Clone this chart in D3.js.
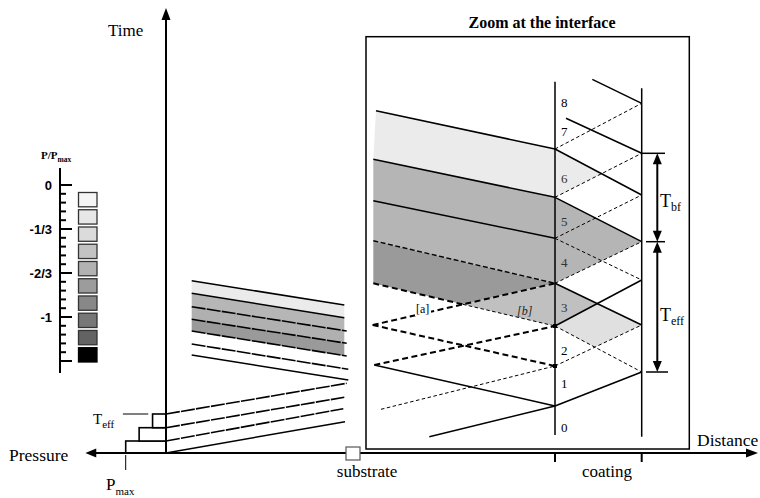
<!DOCTYPE html>
<html><head><meta charset="utf-8">
<script src="https://cdn.jsdelivr.net/npm/d3@7"></script>
<style>
body{margin:0;background:#fff}
svg{display:block}
text{font-family:"Liberation Serif","Times New Roman",serif;fill:#000}
</style>
</head><body>
<svg id="chart" width="760" height="498"></svg>
<script>
// ================= DATA =================
// legend (P / Pmax)
const legendTickValues = [0, -1/3, -2/3, -1];
const legendTickLabels = ["0", "-1/3", "-2/3", "-1"];
const legendMinorCount = 20;            // minor ticks every 1/15 down to -4/3
const legendColors = ["#f5f5f5","#e7e7e7","#dbdbdb","#c3c3c3","#b2b2b2","#9c9c9c","#888888","#777777","#636363","#000000"];

// loading steps at the origin (relative pressure, time span)
const pressureSteps = [1, 2/3, 1/3];
const stepTimes = [0, 12, 25.3, 39];

// overview: characteristic lines in the substrate (distance, time)
const descLines = [
  [[25.7,172.3],[178.3,148]],
  [[25.7,159.7],[178.3,135.3]],
  [[25.7,146.3],[180.7,122]],
  [[25.7,133.7],[180.7,109.7]],
  [[25.7,122],[180.7,97]],
  [[25.7,109],[182.3,83.7]],
  [[25.7,98],[182.3,73]]
];
const descStyles = ["solid","solid","rough","rough","rough","rough","solid"];
const ascLines = [
  [[0,39],[180.7,69.7]],
  [[0,25.3],[178.3,55.7]],
  [[0,12],[177.3,44.3]],
  [[0,0],[179,31.3]]
];
const ascStyles = ["rough","rough","rough","solid"];
const bandColors = ["#ebebeb","#b6b6b6","#b0b0b0","#9a9a9a"];
const bandFillEnd = 178.3;

// zoom at the interface
const interfaceDist = 389, surfaceDist = 475.7;
const interfaceTimes = [47, 87, 127, 169.7, 214.7, 255.7, 304];
const surfaceTimes  = [81, 128, 173, 211.3, 258, 299.7, 349.7];
// [interface node, surface node, style]
const coatingSegments = [
  [0,0,"solid"],[2,0,"thin"],[1,1,"thin"],[3,1,"solid"],[2,2,"solid"],[4,2,"thin"],
  [3,3,"thin"],[5,3,"solid"],[4,4,"thin"],[6,4,"solid"],[5,5,"thin"],[6,6,"thin"]
];
// incoming rays reaching the free surface [start distance, start time, surface node]
const incomingRays = [[400,334.7,5],[426.3,373.7,6]];
// substrate-side lines in the zoom [start distance, start time, interface node, style]
const substrateLines = [
  [210,342.3,6,"solid"],
  [207.3,293.7,5,"solid"],
  [207.3,252.3,4,"solid"],
  [207.3,212.3,3,"medium"],
  [207.3,169.7,2,"coarse-thin"],
  [206.7,128,3,"coarse"],
  [206.7,128,1,"coarse"],
  [208.3,88,2,"coarse"],
  [208.3,88,0,"solid"],
  [215,43.7,1,"thin"],
  [263.3,16.3,0,"solid"]
];
const regionLabels = ["0","1","2","3","4","5","6","7","8"];
const regionLabelTimes = [26.3, 69.7, 103, 146.3, 190.7, 232.3, 275, 322.3, 351.3];
const regionLabelColors = ["#000","#000","#000","#333","#333","#333","#333","#000","#000"];

// ================= SCALES =================
const svg = d3.select("#chart");
const X = d3.scaleLinear().domain([0, 590]).range([166, 756]);   // distance
const Y = d3.scaleLinear().domain([0, 445]).range([453, 8]);     // time
const P = d3.scaleLinear().domain([0, 1]).range([166, 125.7]);  // pressure (to the left)
const LY = d3.scaleLinear().domain([0, -4/3]).range([185, 361]);
const LB = d3.scaleBand().domain(d3.range(legendColors.length)).range([192.5, 362]).paddingInner(0.17).paddingOuter(0);

const line = d3.line().x(d => X(d[0])).y(d => Y(d[1]));
const I = i => [interfaceDist, interfaceTimes[i]];
const S = j => [surfaceDist, surfaceTimes[j]];
function intersect(a, b, c, d) {
  const x1=a[0],y1=a[1],x2=b[0],y2=b[1],x3=c[0],y3=c[1],x4=d[0],y4=d[1];
  const den=(x1-x2)*(y3-y4)-(y1-y2)*(x3-x4);
  const t=((x1-x3)*(y3-y4)-(y1-y3)*(x3-x4))/den;
  return [x1+t*(x2-x1), y1+t*(y2-y1)];
}
function tAt(l, d) { const [[d0,t0],[d1,t1]] = l; return t0 + (t1-t0)*(d-d0)/(d1-d0); }
const styles = {
  solid:  {w:1.5, dash:null},
  rough:  {w:1.6, dash:"14,1.2"},
  thin:   {w:1,   dash:"3.5,2.5"},
  medium: {w:1.4, dash:"5,2.5"},
  coarse: {w:2,   dash:"6,3.5"}
};
function drawLine(pts, st) {
  const s = styles[st];
  svg.append("path").attr("d", line(pts)).attr("fill","none")
    .attr("stroke","#000").attr("stroke-width", s.w)
    .attr("stroke-dasharray", s.dash);
}
function poly(pts, fill) {
  svg.append("path").attr("d", line(pts) + "Z").attr("fill", fill).attr("stroke","none");
}

// ================= LEGEND =================
svg.append("line").attr("x1",60).attr("x2",60).attr("y1",LY(0)-17).attr("y2",LY(-4/3)+12)
  .attr("stroke","#000").attr("stroke-width",2);
d3.range(legendMinorCount+1).forEach(k => {
  const v = -k/15, major = k % 5 === 0;
  svg.append("line").attr("x1",60).attr("x2", major ? 72 : 66)
    .attr("y1",LY(v)).attr("y2",LY(v)).attr("stroke","#000").attr("stroke-width",2);
});
legendTickValues.forEach((v,i) => {
  svg.append("text").attr("x",52).attr("y",LY(v)+5).attr("text-anchor","end")
    .style("font-family","'Liberation Sans',Arial,sans-serif").style("font-weight","bold")
    .style("font-size","13px").text(legendTickLabels[i]);
});
legendColors.forEach((c,i) => {
  svg.append("rect").attr("x",78.5).attr("y",LB(i)).attr("width",18.5).attr("height",LB.bandwidth())
    .attr("fill",c).attr("stroke", i === legendColors.length-1 ? "#000" : "#333").attr("stroke-width",1.3);
});
const lt = svg.append("text").attr("x",41).attr("y",159).style("font-weight","bold").style("font-size","11px");
lt.append("tspan").text("P/P");
lt.append("tspan").attr("dy",3).style("font-size","7.5px").text("max");

// ================= OVERVIEW BANDS =================
for (let k = 0; k < bandColors.length; k++) {
  const a = descLines[k], b = descLines[k+1];
  poly([a[0], [bandFillEnd, tAt(a,bandFillEnd)], [bandFillEnd, tAt(b,bandFillEnd)], b[0]], bandColors[k]);
}
descLines.forEach((l,i) => drawLine(l, descStyles[i]));
ascLines.forEach((l,i) => drawLine(l, ascStyles[i]));

// loading steps
pressureSteps.forEach((p,i) => {
  svg.append("rect").attr("x",P(p)).attr("y",Y(stepTimes[i+1]))
    .attr("width",P(0)-P(p)).attr("height",Y(stepTimes[i])-Y(stepTimes[i+1]))
    .attr("fill","#fff").attr("stroke","#000").attr("stroke-width",1.6);
});
// Teff marker + Pmax tick
svg.append("line").attr("x1",P(1.07)).attr("x2",P(0.44)).attr("y1",Y(stepTimes[3])).attr("y2",Y(stepTimes[3]))
  .attr("stroke","#000").attr("stroke-width",1);
svg.append("line").attr("x1",P(1)).attr("x2",P(1)).attr("y1",Y(-2)).attr("y2",Y(-17))
  .attr("stroke","#000").attr("stroke-width",1);

// ================= ZOOM BOX =================
const sl = k => [substrateLines[k][0], substrateLines[k][1]];
const K = intersect(sl(4), I(2), sl(5), I(3));
poly([sl(0), I(6), I(5), sl(1)], "#ebebeb");
poly([sl(1), I(5), I(3), sl(3)], "#b5b5b5");
poly([sl(3), I(3), K, sl(4)], "#9a9a9a");
poly([K, I(3), I(2)], "#c0c0c0");

const X65 = intersect(I(6),S(4),I(5),S(5));
const X54 = intersect(I(5),S(3),I(4),S(4));
const X43 = intersect(I(4),S(2),I(3),S(3));
const X32 = intersect(I(3),S(1),I(2),S(2));
const X21 = intersect(I(2),S(0),I(1),S(1));
poly([I(6), X65, I(5)], "#ebebeb");
poly([I(5), X54, S(3), X43, I(3)], "#b5b5b5");
poly([I(3), X32, I(2)], "#c0c0c0");
poly([I(2), X32, S(1), X21], "#e0e0e0");

substrateLines.forEach(s => {
  const st = [s[0], s[1]], en = I(s[2]);
  if (s[3] === "coarse-thin") { drawLine([st, K], "coarse"); drawLine([K, en], "thin"); }
  else drawLine([st, en], s[3]);
});
coatingSegments.forEach(s => drawLine([I(s[0]), S(s[1])], s[2]));
incomingRays.forEach(r => drawLine([[r[0],r[1]], S(r[2])], "solid"));

// interface & free surface
drawLine([[interfaceDist,18],[interfaceDist,371.3]], "solid");
drawLine([[surfaceDist,16.3],[surfaceDist,364.7]], "solid");
[1,2].forEach(i => svg.append("rect").attr("x",X(interfaceDist)-2).attr("y",Y(interfaceTimes[i])-2).attr("width",4).attr("height",4).attr("fill","#000"));

// box
svg.append("rect").attr("x",X(200)).attr("y",Y(416.3)).attr("width",X(523.3)-X(200)).attr("height",Y(4)-Y(416.3))
  .attr("fill","none").attr("stroke","#000").attr("stroke-width",1.5);

// region labels
regionLabels.forEach((t,i) => {
  svg.append("text").attr("x",X(interfaceDist+6)).attr("y",Y(regionLabelTimes[i])+5)
    .style("font-size","13px").style("fill",regionLabelColors[i]).text(t);
});
svg.append("rect").attr("x",X(250)-1).attr("y",Y(140)-10).attr("width",16).attr("height",13).attr("fill","#fff");
svg.append("text").attr("x",X(250)).attr("y",Y(140)).style("font-size","12px").text("[a]");
svg.append("text").attr("x",X(351)).attr("y",Y(138)).style("font-size","12px").style("font-style","italic").style("fill","#222").text("[b]");

// Tbf / Teff arrows
const arrowX = X(491.3);
function hTick(t, d0, d1) {
  svg.append("line").attr("x1",X(d0)).attr("x2",X(d1)).attr("y1",Y(t)).attr("y2",Y(t)).attr("stroke","#000").attr("stroke-width",1.5);
}
function vArrow(tTop, tBot) {
  const y0 = Y(tTop), y1 = Y(tBot);
  svg.append("line").attr("x1",arrowX).attr("x2",arrowX).attr("y1",y0+8).attr("y2",y1-8).attr("stroke","#000").attr("stroke-width",2);
  svg.append("path").attr("d",`M${arrowX},${y0}L${arrowX-4.5},${y0+11}L${arrowX+4.5},${y0+11}Z`).attr("fill","#000");
  svg.append("path").attr("d",`M${arrowX},${y1}L${arrowX-4.5},${y1-11}L${arrowX+4.5},${y1-11}Z`).attr("fill","#000");
}
hTick(surfaceTimes[5], surfaceDist, 499);
hTick(surfaceTimes[3], 480, 499);
hTick(surfaceTimes[0], 480, 502);
vArrow(surfaceTimes[5], surfaceTimes[3]);
vArrow(surfaceTimes[3], surfaceTimes[0]);
function tLabel(x, y, sub) {
  const t = svg.append("text").attr("x",x).attr("y",y).style("font-size","18px");
  t.append("tspan").text("T");
  t.append("tspan").attr("dy",4).style("font-size","12px").text(sub);
}
tLabel(660, 207, "bf");
tLabel(660, 321, "eff");

// ================= MAIN AXES =================
svg.append("line").attr("x1",X(0)).attr("x2",X(0)).attr("y1",Y(0)).attr("y2",Y(433)).attr("stroke","#000").attr("stroke-width",2);
svg.append("path").attr("d",`M${X(0)},${Y(445)}L${X(0)-4.5},${Y(433)}L${X(0)+4.5},${Y(433)}Z`).attr("fill","#000");
svg.append("line").attr("x1",P(1.9)).attr("x2",X(580)).attr("y1",Y(0)).attr("y2",Y(0)).attr("stroke","#000").attr("stroke-width",2);
svg.append("path").attr("d",`M${P(2.0)},${Y(0)}L${P(1.73)},${Y(0)-4.5}L${P(1.73)},${Y(0)+4.5}Z`).attr("fill","#000");
svg.append("path").attr("d",`M${X(592)},${Y(0)}L${X(580)},${Y(0)-4.5}L${X(580)},${Y(0)+4.5}Z`).attr("fill","#000");
[interfaceDist, surfaceDist].forEach(d => svg.append("line").attr("x1",X(d)).attr("x2",X(d)).attr("y1",Y(0)).attr("y2",Y(-9)).attr("stroke","#000").attr("stroke-width",2));
// substrate marker
svg.append("rect").attr("x",X(180)).attr("y",Y(6)).attr("width",X(194)-X(180)).attr("height",Y(-7)-Y(6))
  .attr("fill","#fff").attr("stroke","#555").attr("stroke-width",1.2);

// ================= TEXT =================
const txt = (x,y,s,size,anchor,weight) => svg.append("text").attr("x",x).attr("y",y).attr("text-anchor",anchor||"start")
  .style("font-size",size).style("font-weight",weight||"normal").text(s);
txt(108, 36, "Time", "17px");
txt(9, 461, "Pressure", "17.5px");
txt(697, 446, "Distance", "17.5px");
txt(367, 477, "substrate", "17px", "middle");
txt(607, 477, "coating", "17px", "middle");
txt(542, 28, "Zoom at the interface", "16px", "middle", "bold");
const te = svg.append("text").attr("x",93).attr("y",424).style("font-size","15px");
te.append("tspan").text("T"); te.append("tspan").attr("dy",4).style("font-size","11px").text("eff");
const pm = svg.append("text").attr("x",106).attr("y",490).style("font-size","17px");
pm.append("tspan").text("P"); pm.append("tspan").attr("dy",5).style("font-size","11px").text("max");
</script>
</body></html>
